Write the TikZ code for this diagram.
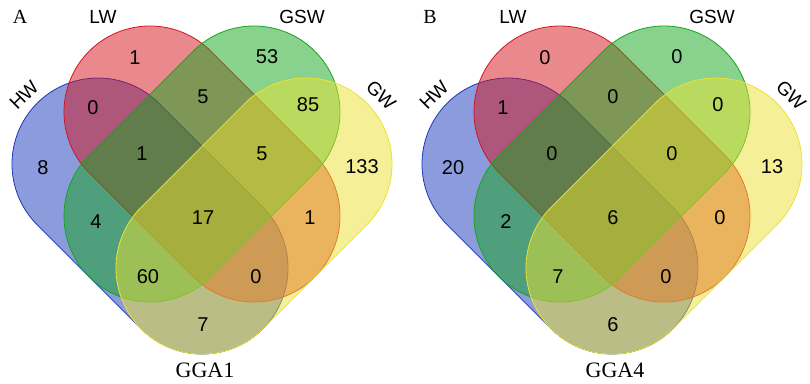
\documentclass[tikz,border=0pt]{standalone}
\usepackage{fontspec}
\setmainfont{Liberation Serif}
\setsansfont{Liberation Sans}
\usepackage{tikz}
\definecolor{hwblue}{RGB}{25,55,185}
\definecolor{lwred}{RGB}{212,20,30}
\definecolor{gswgreen}{RGB}{20,165,30}
\definecolor{gwyellow}{RGB}{235,225,50}
\tikzset{
  venn/.style={fill opacity=0.5, line width=0.8pt},
  cnt/.style={font=\sffamily\fontsize{20}{24}\selectfont, inner sep=0pt},
  setname/.style={font=\sffamily\fontsize{19}{23}\selectfont, inner sep=0pt},
  panel/.style={font=\fontsize{20}{24}\selectfont, inner sep=0pt},
  chrom/.style={font=\fontsize{22}{26}\selectfont, inner sep=0pt}
}
\newcommand{\capsule}[4]{%
  \filldraw[venn, draw=#4, fill=#4, shift={(#1,#2)}, rotate=#3]
    (0,86) arc[start angle=90, end angle=270, radius=86pt]
    -- (147.1,-86) arc[start angle=-90, end angle=90, radius=86pt] -- cycle;}
\newcommand{\vennshapes}{%
  \capsule{98}{219}{-45}{hwblue}
  \capsule{150}{271}{-45}{lwred}
  \capsule{254}{271}{-135}{gswgreen}
  \capsule{306}{219}{-135}{gwyellow}}

\begin{document}
\begin{tikzpicture}[x=1pt, y=1pt]
\useasboundingbox (0,0) rectangle (810,383);

\begin{scope}
\vennshapes
\node[panel] (pa) at (20,366) {A};
\node[setname] (alw) at (103,366) {LW};
\node[setname] (agsw) at (302,366) {GSW};
\node[setname, rotate=45] (ahw) at (24,288) {HW};
\node[setname, rotate=-45] (agw) at (381,288) {GW};
\node[chrom] (agga) at (205,13) {GGA1};
\foreach \px/\py/\v [count=\i] in {43/215/8, 135/325/1, 267/326/53, 362/216/133,
    93/275/0, 203/286/5, 308/278/85, 142/229/1, 262/229/5, 96/161/4,
    203/165/17, 310/165/1, 148/106/60, 256/106/0, 203/58/7}
  \node[cnt] (a\i) at (\px,\py) {\v};
\end{scope}

\begin{scope}[xshift=410pt]
\vennshapes
\node[panel] (pb) at (20,366) {B};
\node[setname] (blw) at (103,366) {LW};
\node[setname] (bgsw) at (302,366) {GSW};
\node[setname, rotate=45] (bhw) at (24,288) {HW};
\node[setname, rotate=-45] (bgw) at (381,288) {GW};
\node[chrom] (bgga) at (205,13) {GGA4};
\foreach \px/\py/\v [count=\i] in {43/215/20, 135/325/0, 267/326/0, 362/216/13,
    93/275/1, 203/286/0, 308/278/0, 142/229/0, 262/229/0, 96/161/2,
    203/165/6, 310/165/0, 148/106/7, 256/106/0, 203/58/6}
  \node[cnt] (b\i) at (\px,\py) {\v};
\end{scope}
\end{tikzpicture}
\end{document}
